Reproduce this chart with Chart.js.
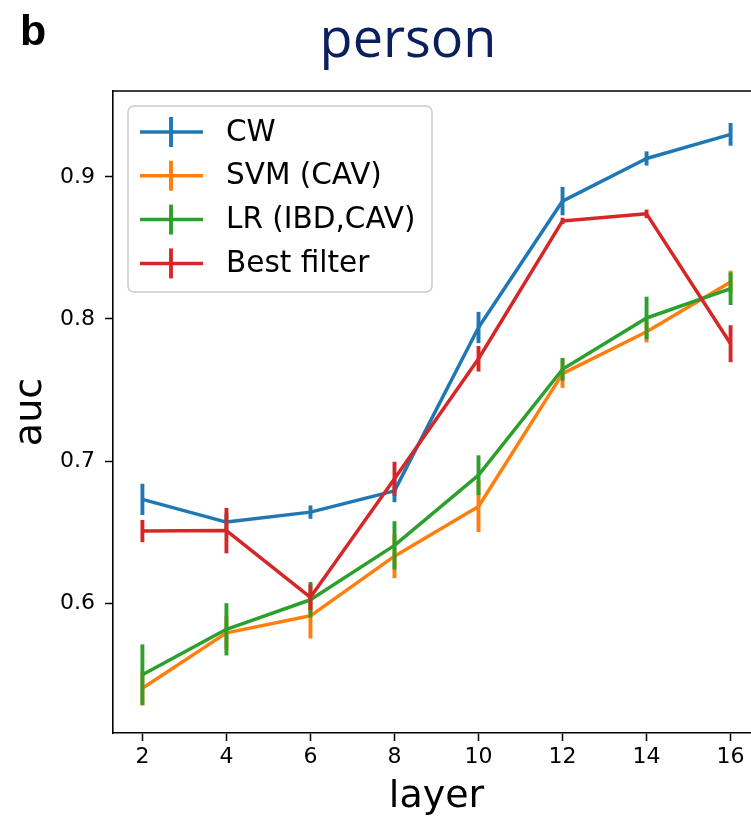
<!DOCTYPE html>
<html><head><meta charset="utf-8">
<script src="https://cdn.jsdelivr.net/npm/chart.js@4.4.0/dist/chart.umd.min.js"></script>
<style>
html,body{margin:0;padding:0;overflow:hidden;background:#fff;width:751px;height:820px}
#wrap{position:absolute;left:0;top:0;width:780px;height:820px}
</style>
</head><body><div id="wrap"><canvas id="c" width="780" height="820"></canvas></div>
<script>
// ---- data ----
const panelLetter = "b";
const chartTitle = "person";
const xAxisLabel = "layer";
const yAxisLabel = "auc";
const layers = [2, 4, 6, 8, 10, 12, 14, 16];
const xTicks = [2, 4, 6, 8, 10, 12, 14, 16];
const yTicks = [0.6, 0.7, 0.8, 0.9];
const yTickLabels = ["0.6", "0.7", "0.8", "0.9"];
const seriesNames = ["CW", "SVM (CAV)", "LR (IBD,CAV)", "Best filter"];
const cw      = [0.673, 0.657, 0.664, 0.679, 0.794, 0.883, 0.913, 0.930];
const cwErr   = [0.011, 0.006, 0.0047, 0.008, 0.011, 0.010, 0.005, 0.008];
const svm     = [0.540, 0.579, 0.591, 0.633, 0.668, 0.7615, 0.791, 0.826];
const svmErr  = [0.012, 0.012, 0.016, 0.0155, 0.018, 0.010, 0.0075, 0.008];
const lr      = [0.5495, 0.5815, 0.6023, 0.6406, 0.690, 0.7646, 0.8007, 0.8213];
const lrErr   = [0.0214, 0.0184, 0.0125, 0.017, 0.014, 0.008, 0.015, 0.0115];
const best    = [0.6507, 0.651, 0.604, 0.6875, 0.772, 0.869, 0.874, 0.7826];
const bestErr = [0.0078, 0.016, 0.009, 0.012, 0.009, 0.0023, 0.003, 0.013];

const colors = ["#1f77b4", "#ff7f0e", "#2ca02c", "#d62728"];
const values = [cw, svm, lr, best];
const errors = [cwErr, svmErr, lrErr, bestErr];

const datasets = seriesNames.map((name, i) => ({
  label: name,
  data: layers.map((x, j) => ({x: x, y: values[i][j]})),
  errors: errors[i],
  borderColor: colors[i],
  backgroundColor: colors[i],
  borderWidth: 3.5,
  pointRadius: 0,
  pointHoverRadius: 0,
  tension: 0,
  fill: false,
  borderJoinStyle: 'round',
  order: 3 - i
}));

const errorBarPlugin = {
  id: 'errorBars',
  afterDatasetDraw(chart, args) {
    const ds = chart.data.datasets[args.index];
    if (!ds.errors) return;
    const {ctx, chartArea, scales: {x, y}} = chart;
    ctx.save();
    ctx.beginPath();
    ctx.rect(chartArea.left, chartArea.top, chartArea.right - chartArea.left, chartArea.bottom - chartArea.top);
    ctx.clip();
    ctx.strokeStyle = ds.borderColor;
    ctx.lineWidth = 3.9;
    ctx.lineCap = 'butt';
    ds.data.forEach((p, j) => {
      const e = ds.errors[j];
      const px = x.getPixelForValue(p.x);
      ctx.beginPath();
      ctx.moveTo(px, y.getPixelForValue(p.y - e));
      ctx.lineTo(px, y.getPixelForValue(p.y + e));
      ctx.stroke();
    });
    ctx.restore();
  }
};

const framePlugin = {
  id: 'frame',
  afterDatasetsDraw(chart) {
    const {ctx, chartArea: a} = chart;
    ctx.save();
    ctx.strokeStyle = '#000';
    ctx.lineWidth = 1.6;
    ctx.beginPath();
    ctx.moveTo(a.left - 0.8, a.top);
    ctx.lineTo(a.right, a.top);
    ctx.lineTo(a.right, a.bottom);
    ctx.stroke();
    ctx.restore();
  }
};

function roundRect(ctx, x, y, w, h, r) {
  ctx.beginPath();
  ctx.moveTo(x + r, y);
  ctx.lineTo(x + w - r, y);
  ctx.arcTo(x + w, y, x + w, y + r, r);
  ctx.lineTo(x + w, y + h - r);
  ctx.arcTo(x + w, y + h, x + w - r, y + h, r);
  ctx.lineTo(x + r, y + h);
  ctx.arcTo(x, y + h, x, y + h - r, r);
  ctx.lineTo(x, y + r);
  ctx.arcTo(x, y, x + r, y, r);
  ctx.closePath();
}

const legendPlugin = {
  id: 'boxLegend',
  afterDraw(chart) {
    const {ctx, chartArea: a} = chart;
    const bx = a.left + 15, by = a.top + 15, bw = 304, bh = 186;
    ctx.save();
    roundRect(ctx, bx, by, bw, bh, 6);
    ctx.fillStyle = 'rgba(255,255,255,0.8)';
    ctx.fill();
    ctx.strokeStyle = '#cccccc';
    ctx.lineWidth = 1.5;
    ctx.stroke();
    ctx.font = '29.5px "DejaVu Sans"';
    ctx.textBaseline = 'middle';
    ctx.textAlign = 'left';
    chart.data.datasets.forEach((ds, i) => {
      const cy = by + 26 + i * 43.8;
      ctx.strokeStyle = ds.borderColor;
      ctx.lineWidth = 3.5;
      ctx.beginPath();
      ctx.moveTo(bx + 12, cy);
      ctx.lineTo(bx + 75, cy);
      ctx.stroke();
      ctx.lineWidth = 3.9;
      ctx.beginPath();
      ctx.moveTo(bx + 43, cy - 15);
      ctx.lineTo(bx + 43, cy + 15);
      ctx.stroke();
      ctx.fillStyle = '#000';
      ctx.fillText(ds.label, bx + 98, cy + 1);
    });
    ctx.restore();
  }
};

const headingPlugin = {
  id: 'heading',
  afterDraw(chart) {
    const ctx = chart.ctx;
    ctx.save();
    ctx.textBaseline = 'alphabetic';
    ctx.textAlign = 'center';
    ctx.fillStyle = '#0b1f5c';
    ctx.font = '54px "Open Sans"';
    ctx.fillText(chartTitle, 408, 57);
    ctx.textAlign = 'left';
    ctx.fillStyle = '#000';
    ctx.font = 'bold 43px "Liberation Sans"';
    ctx.fillText(panelLetter, 20, 45);
    ctx.restore();
  }
};

new Chart(document.getElementById('c'), {
  type: 'line',
  data: {datasets: datasets},
  options: {
    responsive: false,
    animation: false,
    devicePixelRatio: 1,
    layout: {padding: {top: 91, left: 0, right: 20, bottom: 0}},
    plugins: {legend: {display: false}, title: {display: false}, tooltip: {enabled: false}},
    events: [],
    scales: {
      x: {
        type: 'linear',
        min: 1.3, max: 16.7,
        afterBuildTicks(s) { s.ticks = xTicks.map(v => ({value: v})); },
        afterFit(s) { s.height = 87; },
        grid: {drawOnChartArea: false, drawTicks: true, tickLength: 8, tickWidth: 1.5, tickColor: '#000'},
        border: {display: true, color: '#000', width: 1.6},
        ticks: {color: '#000', font: {family: '"DejaVu Sans"', size: 22}, padding: 3, maxRotation: 0,
                callback: (v) => String(v)},
        title: {display: true, text: xAxisLabel, color: '#000', font: {family: '"DejaVu Sans"', size: 38, lineHeight: 1},
                padding: {top: 0, bottom: 4}}
      },
      y: {
        type: 'linear',
        min: 0.5085, max: 0.9605,
        afterBuildTicks(s) { s.ticks = yTicks.map(v => ({value: v})); },
        afterFit(s) { s.width = 113; },
        grid: {drawOnChartArea: false, drawTicks: true, tickLength: 8, tickWidth: 1.5, tickColor: '#000'},
        border: {display: true, color: '#000', width: 1.6},
        ticks: {color: '#000', font: {family: '"DejaVu Sans"', size: 22}, padding: 10,
                callback: (v) => yTickLabels[yTicks.findIndex(t => Math.abs(t - v) < 1e-9)]},
        title: {display: true, text: yAxisLabel, color: '#000', font: {family: '"DejaVu Sans"', size: 38, lineHeight: 1},
                padding: {top: 12, bottom: 0}}
      }
    }
  },
  plugins: [errorBarPlugin, framePlugin, legendPlugin, headingPlugin]
});
</script></body></html>
